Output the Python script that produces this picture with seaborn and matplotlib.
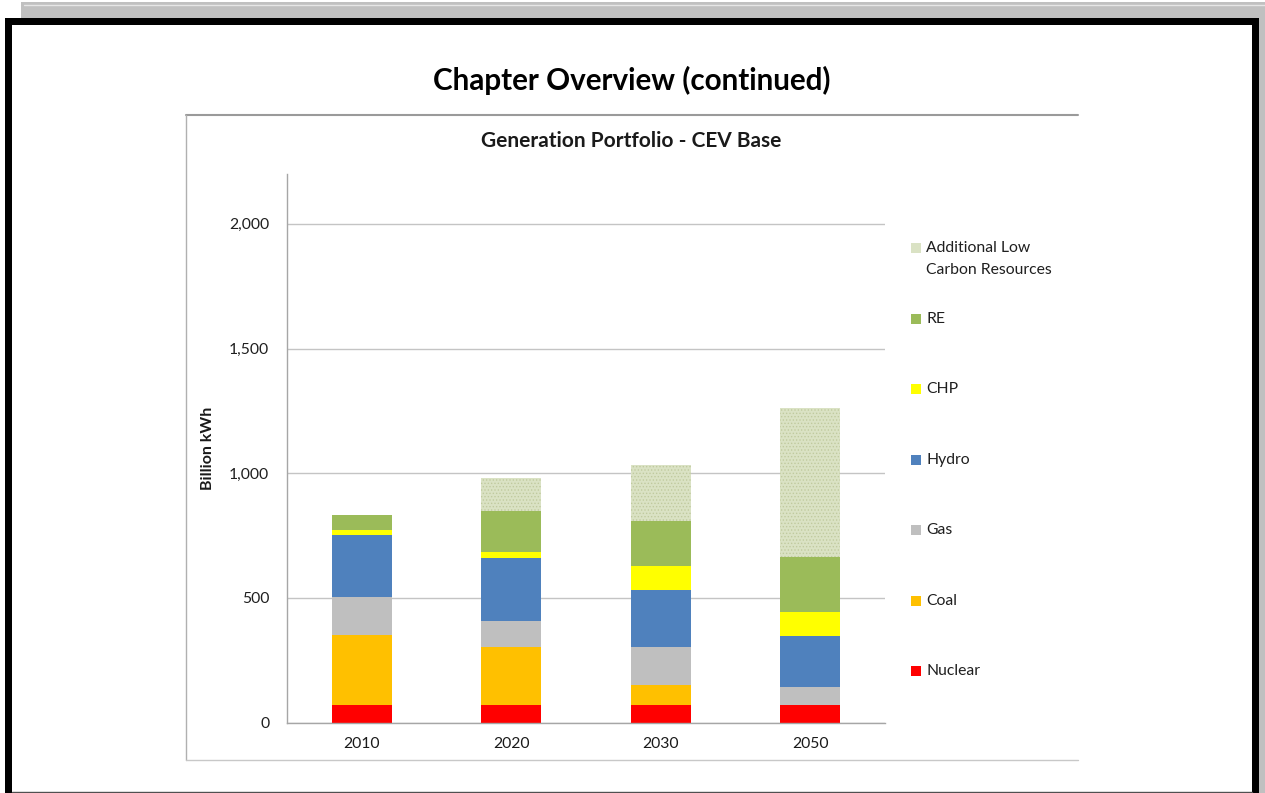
import matplotlib
matplotlib.use("Agg")
import matplotlib.pyplot as plt
import matplotlib.ticker as mticker
from matplotlib.patches import Rectangle
from matplotlib.lines import Line2D
import pandas as pd
import seaborn as sns

# data (billion kWh)
years = ["2010", "2020", "2030", "2050"]
nuclear = [70, 70, 70, 70]
coal = [280, 233, 82, 0]
gas = [152, 105, 153, 75]
hydro = [250, 252, 226, 202]
chp = [22, 24, 97, 95]
renew = [60, 163, 179, 222]
additional = [0, 135, 225, 598]

series_names = ["Nuclear", "Coal", "Gas", "Hydro", "CHP", "RE",
                "Additional Low\nCarbon Resources"]
series_values = [nuclear, coal, gas, hydro, chp, renew, additional]
series_colors = ["#ff0000", "#ffc000", "#bfbfbf", "#4f81bd", "#ffff00",
                 "#9bbb59", "#dae2c4"]

W, H = 1265, 793
sns.set_style("white")
plt.rcParams["font.family"] = ["Lato", "DejaVu Sans"]
plt.rcParams["hatch.color"] = "#c0ca9e"
plt.rcParams["hatch.linewidth"] = 0.6

fig = plt.figure(figsize=(W / 100, H / 100), dpi=100)
fig.patch.set_facecolor("white")


def fx(x):
    return x / W


def fy(y):
    return 1 - y / H


def box(x0, y0, x1, y1, color, z=0):
    fig.add_artist(Rectangle((fx(x0), fy(y1)), fx(x1) - fx(x0), fy(y0) - fy(y1),
                             transform=fig.transFigure, facecolor=color,
                             edgecolor="none", zorder=z))


def line(xs, ys, color, lw):
    fig.add_artist(Line2D([fx(v) for v in xs], [fy(v) for v in ys],
                          transform=fig.transFigure, color=color, lw=lw))


# slide chrome: grey strip, black frame
box(21, 2, W, 18, "#c0c0c0")
line([24, W], [5, 5], "#e6e6e6", 1)
box(1259, 18, W, H, "#c0c0c0")
box(5, 18, 1259, 25, "black")
box(5, 18, 12, H, "black")
box(1252, 18, 1259, H, "black")
line([12, 1252], [791.5, 791.5], "#505050", 1)

# chart box (cut off on the right like the screenshot)
line([186, 1078], [115, 115], "#9a9a9a", 1.5)
line([186, 186], [115, 760], "#b0b0b0", 1)
line([186, 1078], [760, 760], "#c8c8c8", 1)

fig.text(fx(632), fy(80), "Chapter Overview (continued)", ha="center",
         va="center", fontsize=21.3, fontweight="bold", color="black")
fig.text(fx(631), fy(141), "Generation Portfolio - CEV Base", ha="center",
         va="center", fontsize=15, fontweight="bold", color="#1a1a1a")

ax_l, ax_r, ax_t, ax_b = 287, 885, 174, 722.7
ax = fig.add_axes([fx(ax_l), fy(ax_b), fx(ax_r) - fx(ax_l), (ax_b - ax_t) / H])
ax.set_facecolor("white")

# stacked bars: draw cumulative totals from the top series down
running = [0] * len(years)
cums = []
for vals in series_values:
    running = [a + b for a, b in zip(running, vals)]
    cums.append(list(running))

for name, cum, col in reversed(list(zip(series_names, cums, series_colors))):
    n_before = len(ax.patches)
    sns.barplot(x=years, y=cum, color=col, width=0.4, saturation=1,
                linewidth=0, errorbar=None, ax=ax)
    if name.startswith("Additional"):
        for p in ax.patches[n_before:]:
            p.set_hatch(".....")
            p.set_edgecolor("#c0ca9e")
            p.set_linewidth(0)

ax.set_xlim(-0.5, 3.5)
ax.set_ylim(0, 2200)
ax.set_yticks([0, 500, 1000, 1500, 2000])
ax.yaxis.set_major_formatter(mticker.FuncFormatter(lambda v, p: f"{int(v):,}"))
ax.yaxis.grid(True, color="#c4c4c4", lw=1)
ax.set_axisbelow(True)
for s in ["top", "right"]:
    ax.spines[s].set_visible(False)
for s in ["left", "bottom"]:
    ax.spines[s].set_color("#a6a6a6")
    ax.spines[s].set_linewidth(1)

ax.tick_params(axis="y", direction="out", length=3.8, width=1, color="#a6a6a6",
               pad=9, labelsize=11.3, labelcolor="#1f1f1f")
ax.set_xticks([-0.5, 0.5, 1.5, 2.5, 3.5], minor=True)
ax.tick_params(axis="x", which="major", length=0, pad=10, labelsize=11.3,
               labelcolor="#1a1a1a")
ax.tick_params(axis="x", which="minor", direction="out", length=3.8, width=1,
               color="#a6a6a6")
ax.set_xlabel("")
ax.set_ylabel("Billion kWh", fontsize=11.5, fontweight="bold", color="#1a1a1a")
ax.yaxis.set_label_coords((215 - ax_l) / (ax_r - ax_l), 0.5)

# legend laid out like the Excel one: evenly spaced entries on the right
legend_y = [259, 319, 389, 460, 530, 601, 671]
for name, col, ly in zip(reversed(series_names), reversed(series_colors), legend_y):
    sq_y = ly - 11 if "\n" in name else ly
    fig.add_artist(Rectangle((fx(911), fy(sq_y + 5)), fx(10), 10 / H,
                             transform=fig.transFigure, facecolor=col,
                             edgecolor="none"))
    fig.text(fx(926), fy(ly), name, ha="left", va="center",
             fontsize=11.3, color="#1f1f1f", linespacing=1.65)

fig.savefig("out.png", dpi=100)
